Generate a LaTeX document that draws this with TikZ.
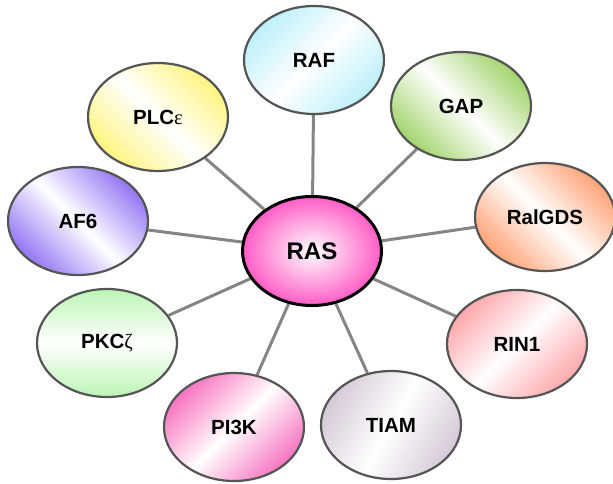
\documentclass[tikz,border=0pt]{standalone}
\usepackage{fontspec}
\setmainfont{Liberation Sans}
\newfontfamily\greekfont{Liberation Serif}
\usetikzlibrary{shapes.geometric}
\usetikzlibrary{backgrounds}
\definecolor{edgegray}{HTML}{555555}
\definecolor{linkgray}{HTML}{858585}
\definecolor{rasc}{HTML}{FF5CC6}
\definecolor{rafc}{HTML}{BDF0FA}
\definecolor{gapc}{HTML}{A4D46E}
\definecolor{ralc}{HTML}{FFA478}
\definecolor{rinc}{HTML}{FFA8AC}
\definecolor{tiamc}{HTML}{D6CAD8}
\definecolor{pikc}{HTML}{F674C0}
\definecolor{pkcc}{HTML}{BCF4B4}
\definecolor{afc}{HTML}{9476F2}
\definecolor{plcc}{HTML}{FFF480}
\begin{document}
\begin{tikzpicture}[x=1pt,y=-1pt,
  protein/.style={ellipse,draw=edgegray,line width=2.2pt,
    minimum width=140pt,minimum height=108pt,inner sep=0pt,
    font=\fontsize{20.5}{24}\selectfont\bfseries},
  hub/.style={ellipse,draw=black,line width=3pt,
    minimum width=139pt,minimum height=109pt,inner sep=0pt,
    inner color=white,outer color=rasc,
    font=\fontsize{24}{28}\selectfont\bfseries},
  link/.style={draw=linkgray,line width=3pt}]
\useasboundingbox (0,0) rectangle (613,483);
\node[hub] (ras) at (312,251) {RAS};
\foreach \nm/\x/\y/\col/\ang/\txt in {
    raf/314/60/rafc/45/RAF,
    gap/461/106/gapc/-45/GAP,
    ralgds/545/217/ralc/-45/RalGDS,
    rin/517/344/rinc/45/RIN1,
    tiam/391/425/tiamc/60/TIAM,
    pik/234/427/pikc/45/PI3K,
    pkc/107/343/pkcc/0/PKC{\greekfont\mdseries ζ},
    afsix/78/221/afc/-45/AF6,
    plc/158/117/plcc/-45/PLC{\greekfont\mdseries ε}}{
  \node[protein,top color=\col,bottom color=\col,middle color=white,
    shading angle=\ang] (\nm) at (\x,\y) {\txt};
}
\begin{pgfonlayer}{background}
\foreach \nm in {raf,gap,ralgds,rin,tiam,pik,pkc,afsix,plc}{
  \draw[link] (ras) -- (\nm);
}
\end{pgfonlayer}
\end{tikzpicture}
\end{document}
